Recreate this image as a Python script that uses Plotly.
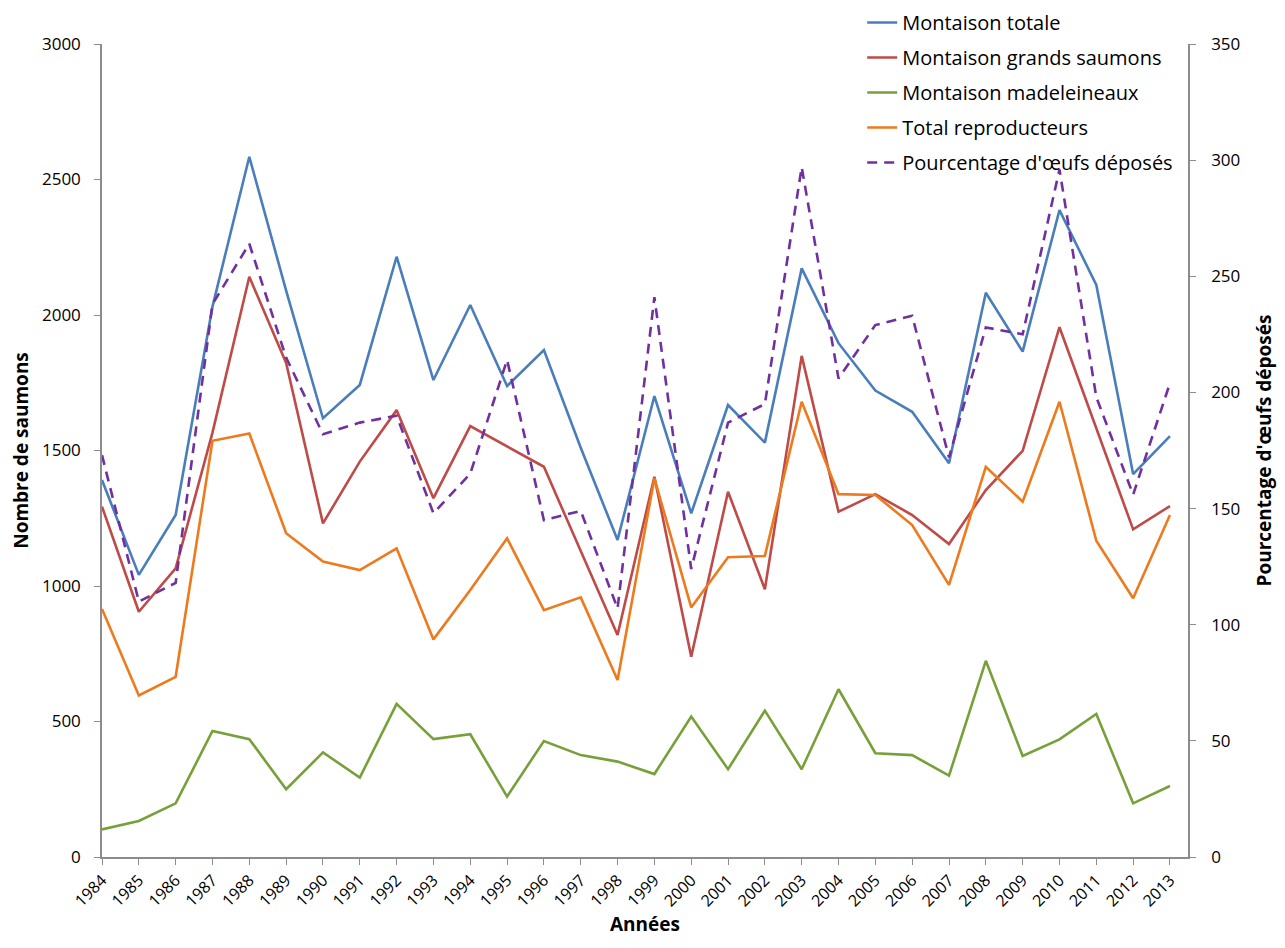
import plotly.graph_objects as go

years = list(range(1984, 2014))
montaison_totale = [1391, 1041, 1262, 2031, 2584, 2090, 1619, 1742, 2215, 1760, 2037, 1738, 1871, 1510, 1170, 1701, 1268, 1668, 1529, 2172, 1896, 1721, 1643, 1453, 2082, 1865, 2387, 2111, 1413, 1553]
montaison_grands = [1293, 905, 1065, 1566, 2141, 1823, 1231, 1459, 1649, 1324, 1590, 1515, 1440, 1129, 819, 1403, 739, 1348, 988, 1849, 1274, 1339, 1262, 1155, 1354, 1499, 1955, 1582, 1209, 1295]
montaison_madeleineaux = [102, 133, 198, 465, 435, 250, 386, 293, 565, 435, 453, 223, 428, 376, 352, 306, 518, 324, 540, 324, 619, 383, 376, 300, 724, 373, 434, 528, 198, 262]
total_reproducteurs = [915, 596, 665, 1536, 1563, 1195, 1090, 1059, 1139, 803, 985, 1176, 911, 958, 653, 1397, 921, 1106, 1111, 1680, 1339, 1336, 1225, 1004, 1440, 1311, 1680, 1167, 955, 1262]
pourcentage_oeufs = [173, 110, 118, 238, 264, 215, 182, 187, 190, 148, 165, 214, 145, 149, 107, 241, 124, 187, 195, 297, 206, 229, 233, 172, 228, 225, 296, 198, 156, 204]

FONT = "Open Sans"
fig = go.Figure()

series = [
    ("Montaison totale", montaison_totale, "#4A7EBB", "solid", "y"),
    ("Montaison grands saumons", montaison_grands, "#BE4B48", "solid", "y"),
    ("Montaison madeleineaux", montaison_madeleineaux, "#77A03A", "solid", "y"),
    ("Total reproducteurs", total_reproducteurs, "#EE7A1E", "solid", "y"),
    ("Pourcentage d'œufs déposés", pourcentage_oeufs, "#7030A0", "10px,7px", "y2"),
]
for i, (name, vals, col, dash, ax) in enumerate(series):
    fig.add_trace(go.Scatter(
        x=years, y=vals, name=name, mode="lines", yaxis=ax,
        line=dict(color=col, width=2.6, dash=dash),
        legendgroup=f"g{i}",
    ))

axis_col = "#8C8C8C"
fig.update_layout(
    width=1277, height=940,
    margin=dict(l=94, r=97, t=36, b=91, autoexpand=False),
    paper_bgcolor="white", plot_bgcolor="white",
    font=dict(family=FONT, color="#000000", size=17),
    showlegend=True,
    legend=dict(
        x=0.7, y=1.0505, xanchor="left", yanchor="top",
        font=dict(family=FONT, size=20, color="#000000"),
        bgcolor="rgba(0,0,0,0)", tracegroupgap=6,
        itemwidth=30,
    ),
    xaxis=dict(
        range=[1984, 2013.49], tickvals=years, ticktext=[str(y) for y in years],
        tickangle=-45, ticks="outside", ticklen=6, tickcolor=axis_col,
        showline=True, linecolor=axis_col, linewidth=1.5,
        showgrid=False, zeroline=False, automargin=False,
        tickfont=dict(family=FONT, size=16, color="#000000"),
        title=dict(text="<b>Années</b>", font=dict(family=FONT, size=19, color="#000000"), standoff=6),
    ),
    yaxis=dict(
        range=[0, 3000], dtick=500, ticks="outside", ticklen=6, tickcolor=axis_col,
        showline=True, linecolor=axis_col, linewidth=1.5,
        showgrid=False, zeroline=False, automargin=False,
        ticklabelstandoff=10,
        tickfont=dict(family=FONT, size=17, color="#000000"),
        title=dict(text="<b>Nombre de saumons</b>", font=dict(family=FONT, size=19, color="#000000"), standoff=10),
    ),
    yaxis2=dict(
        range=[0, 350], dtick=50, overlaying="y", side="right", anchor="x",
        ticks="outside", ticklen=6, tickcolor=axis_col,
        showline=True, linecolor=axis_col, linewidth=1.5,
        showgrid=False, zeroline=False, automargin=False,
        ticklabelstandoff=12,
        tickfont=dict(family=FONT, size=17, color="#000000"),
        title=dict(text="<b>Pourcentage d'œufs déposés</b>", font=dict(family=FONT, size=19, color="#000000"), standoff=18),
    ),
)

fig.write_html("out.html")
